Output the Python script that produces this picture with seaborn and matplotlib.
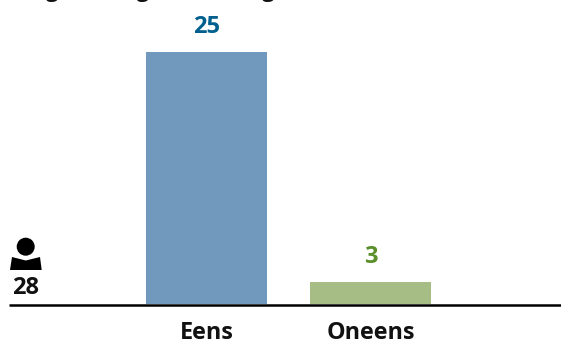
import matplotlib
matplotlib.use("Agg")
import matplotlib.pyplot as plt
from matplotlib.patches import Circle, Polygon
import seaborn as sns
import pandas as pd

categories = ["Eens", "Oneens"]
bar_heights = [25, 2.2]
value_labels = ["25", "3"]
total_label = "28"
# The title is cut off by the top edge of the reference: only descender tips show,
# so the wording is a placeholder that puts those tips in the same places.
title_text = "Ik eigen kan goed in het gat,"
bar_colors = ["#7099BD", "#A6BE85"]
label_colors = ["#005F8E", "#5A8F29"]

W, H = 561, 342
sns.set_theme(style="white")
plt.rcParams["font.family"] = ["Open Sans", "DejaVu Sans"]

fig = plt.figure(figsize=(W / 100, H / 100), dpi=100)
ax = fig.add_axes([0, (H - 304) / H, 1, 252 / H])
df = pd.DataFrame({"cat": categories, "val": bar_heights})
sns.barplot(data=df, x="cat", y="val", hue="cat", palette=bar_colors, legend=False,
            width=0.74, saturation=1, linewidth=0, ax=ax, order=categories)
ax.set_xlim((0 - 206.5) / 164, (561 - 206.5) / 164)
ax.set_ylim(0, 25)
ax.set_xlabel("")
ax.set_ylabel("")
ax.set_yticks([])
ax.set_xticks(range(len(categories)))
ax.set_xticklabels(categories, fontsize=16.8, fontweight="bold", color="#111111")
ax.tick_params(axis="x", length=0, pad=12)
for s in ax.spines.values():
    s.set_visible(False)
ax.patch.set_alpha(0)

for i, (h, lab, c) in enumerate(zip(bar_heights, value_labels, label_colors)):
    ax.annotate(lab, (i, h), xytext=(0, 25), textcoords="offset pixels", ha="center", va="center",
                fontsize=17, fontweight="bold", color=c)

# overlay in figure pixel coordinates, y down
ov = fig.add_axes([0, 0, 1, 1])
ov.set_xlim(0, W)
ov.set_ylim(H, 0)
ov.axis("off")
ov.plot([9, W], [304.8, 304.8], color="black", lw=1.8, solid_capstyle="butt")
ov.add_patch(Circle((25.7, 246.7), 9, color="black", lw=0))
ov.add_patch(Polygon([(12, 257), (25.7, 260.5), (40, 257), (41.7, 270), (10, 270)], closed=True,
                     color="black", lw=0))
ov.text(25.5, 288.5, total_label, ha="center", va="center", fontsize=17, fontweight="bold", color="#111111")
ov.text(1, -3.5, title_text, ha="left", va="baseline", fontsize=15.5, fontweight="bold", color="#111111",
        clip_on=False)

fig.savefig("out.png", dpi=100)
